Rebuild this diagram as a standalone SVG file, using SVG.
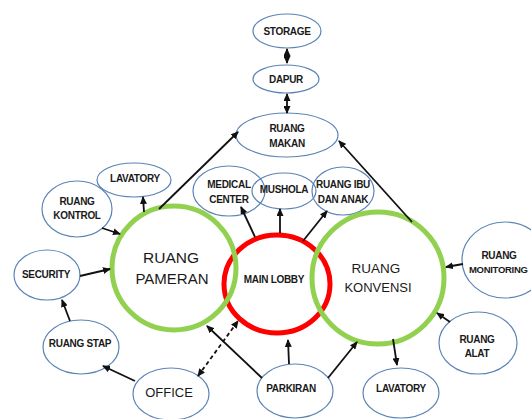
<svg xmlns="http://www.w3.org/2000/svg" width="531" height="419" viewBox="0 0 531 419">
<style>
.n{fill:none;stroke:#5b84b6;stroke-width:1.2}
.t{font-family:"Liberation Sans",Arial,sans-serif;font-size:10px;font-weight:bold;fill:#1a1a1a;text-anchor:middle;letter-spacing:-0.3px}
.b{font-family:"Liberation Sans",Arial,sans-serif;fill:#1a1a1a;text-anchor:middle}
.c{stroke:#111;stroke-width:1.8;fill:none;marker-end:url(#ah)}
.d{marker-start:url(#ah)}
</style>
<defs>
<marker id="ah" viewBox="0 0 8 7" refX="7" refY="3.5" markerWidth="8" markerHeight="7" markerUnits="userSpaceOnUse" orient="auto-start-reverse">
<path d="M0,0 L8,3.5 L0,7 z" fill="#111"/>
</marker>
</defs>
<rect width="531" height="419" fill="#fff"/>
<g id="storage"><ellipse class="n" cx="287" cy="31" rx="34" ry="17"/><text class="t" x="287" y="34.5">STORAGE</text></g>
<g id="dapur"><ellipse class="n" cx="286" cy="79" rx="33" ry="14"/><text class="t" x="286" y="83">DAPUR</text></g>
<g id="ruang-makan"><ellipse class="n" cx="287" cy="135" rx="51" ry="22"/><text class="t" x="287" y="132">RUANG</text><text class="t" x="287" y="147">MAKAN</text></g>
<g id="lavatory-1"><ellipse class="n" cx="134" cy="180" rx="37" ry="17"/><text class="t" x="135" y="182">LAVATORY</text></g>
<g id="ruang-kontrol"><ellipse class="n" cx="77" cy="209" rx="35" ry="28"/><text class="t" x="77" y="205">RUANG</text><text class="t" x="77" y="219">KONTROL</text></g>
<g id="security"><ellipse class="n" cx="47" cy="275" rx="33" ry="25"/><text class="t" x="46" y="278">SECURITY</text></g>
<g id="ruang-stap"><ellipse class="n" cx="81" cy="347" rx="38" ry="27"/><text class="t" x="80" y="347">RUANG STAP</text></g>
<g id="office"><ellipse class="n" cx="171" cy="394" rx="38" ry="26"/><text class="b" x="169" y="397" font-size="13">OFFICE</text></g>
<g id="parkiran"><ellipse class="n" cx="295" cy="391" rx="38" ry="27"/><text class="t" x="291" y="392">PARKIRAN</text></g>
<g id="lavatory-2"><ellipse class="n" cx="401" cy="393" rx="38" ry="25"/><text class="t" x="401" y="392">LAVATORY</text></g>
<g id="ruang-alat"><ellipse class="n" cx="478" cy="343" rx="39" ry="31"/><text class="t" x="477" y="343">RUANG</text><text class="t" x="477" y="357">ALAT</text></g>
<g id="ruang-monitoring"><ellipse class="n" cx="505" cy="260" rx="43" ry="38"/><text class="t" x="499" y="259">RUANG</text><text class="t" x="469" y="273" style="text-anchor:start;font-size:9.5px">MONITORING</text></g>
<g id="medical-center"><ellipse class="n" cx="229" cy="191" rx="36" ry="25"/><text class="t" x="229" y="188">MEDICAL</text><text class="t" x="229" y="203">CENTER</text></g>
<g id="mushola"><ellipse class="n" cx="284" cy="191" rx="32" ry="18"/><text class="t" x="284" y="193">MUSHOLA</text></g>
<g id="ruang-ibu"><ellipse class="n" cx="343" cy="191" rx="31" ry="24"/><text class="t" x="343" y="188">RUANG IBU</text><text class="t" x="343" y="203">DAN ANAK</text></g>
<g id="main-lobby"><ellipse cx="277" cy="284" rx="53" ry="49" fill="none" stroke="#ff0000" stroke-width="5"/><text class="t" x="274" y="283">MAIN LOBBY</text></g>
<g id="ruang-pameran"><circle cx="174" cy="268" r="62" fill="none" stroke="#92d050" stroke-width="5"/><text class="b" x="171" y="263" font-size="15.5">RUANG</text><text class="b" x="172" y="284" font-size="15">PAMERAN</text></g>
<g id="ruang-konvensi"><circle cx="378" cy="278" r="66" fill="none" stroke="#92d050" stroke-width="5"/><text class="b" x="376" y="273" font-size="13.5">RUANG</text><text class="b" x="378" y="292" font-size="13">KONVENSI</text></g>
<g id="connectors">
<line class="c d" x1="287" y1="49" x2="287" y2="63"/>
<line class="c d" x1="287" y1="94" x2="287" y2="113"/>
<line class="c" x1="159" y1="209" x2="238" y2="132"/>
<line class="c" x1="412" y1="222" x2="339" y2="141"/>
<line class="c" x1="144" y1="212" x2="143" y2="197"/>
<line class="c" x1="102" y1="228" x2="120" y2="234"/>
<line class="c" x1="80" y1="276" x2="110" y2="269"/>
<line class="c" x1="70" y1="321" x2="62" y2="300"/>
<line class="c" x1="135" y1="381" x2="103" y2="366"/>
<line class="c d" x1="198" y1="376" x2="238" y2="321" stroke-dasharray="4,3"/>
<line class="c" x1="262" y1="378" x2="207" y2="326"/>
<line class="c" x1="289" y1="364" x2="288" y2="340"/>
<line class="c" x1="328" y1="378" x2="357" y2="342"/>
<line class="c" x1="393" y1="339" x2="397" y2="365"/>
<line class="c" x1="450" y1="322" x2="437" y2="313"/>
<line class="c" x1="463" y1="264" x2="446" y2="267"/>
<line class="c" x1="255" y1="237" x2="241" y2="207"/>
<line class="c" x1="280" y1="233" x2="280" y2="209"/>
<line class="c" x1="303" y1="241" x2="327" y2="211"/>
</g>
</svg>
